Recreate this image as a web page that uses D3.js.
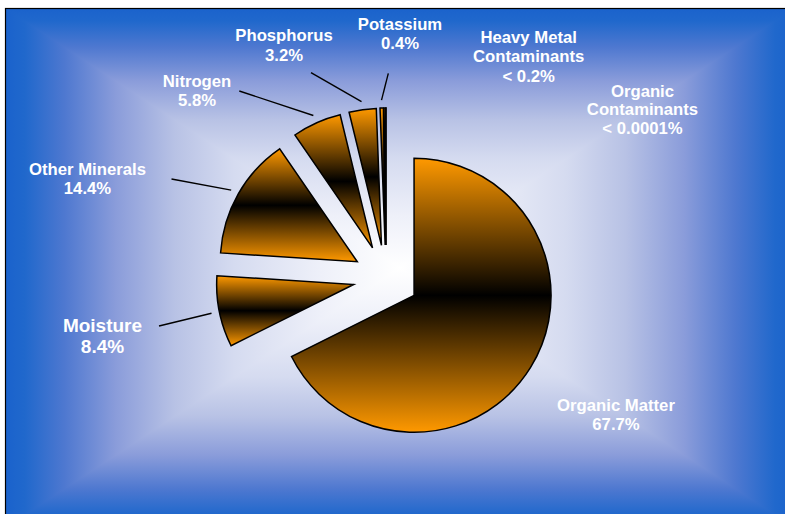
<!DOCTYPE html>
<html>
<head>
<meta charset="utf-8">
<script src="https://cdn.jsdelivr.net/npm/d3@7"></script>
<style>
  html, body { margin: 0; padding: 0; background: #ffffff; }
  svg { display: block; }
  text { font-family: "Liberation Sans", Arial, sans-serif; font-weight: bold; fill: #ffffff; }
</style>
</head>
<body>
<svg id="chart" width="785" height="514"></svg>
<script>
// ---------- data ----------
const categories = ["Organic Matter", "Moisture", "Other Minerals", "Nitrogen", "Phosphorus", "Potassium", "Heavy Metal Contaminants", "Organic Contaminants"];
const values = [67.7, 8.4, 14.4, 5.8, 3.2, 0.4, 0.2, 0.0001];
const valueLabels = ["67.7%", "8.4%", "14.4%", "5.8%", "3.2%", "0.4%", "< 0.2%", "< 0.0001%"];
const nameLines = [["Organic Matter"], ["Moisture"], ["Other Minerals"], ["Nitrogen"], ["Phosphorus"], ["Potassium"], ["Heavy Metal", "Contaminants"], ["Organic", "Contaminants"]];

// ---------- layout ----------
const W = 785, H = 514;
const frame = { x: 5, y: 8, w: 790, h: 520 };
const center = [386, 278];
const radius = 137;
const explode = 33;
const labelPos = [[616, 410.7], [102.5, 332], [87.5, 175], [197, 86.7], [284, 41], [400, 30], [528.7, 42.7], [642.5, 96.5]];
const labelSize = [16.7, 19, 16.7, 16.7, 16.7, 16.7, 16.7, 16.7];
const lineGap = [19, 21, 18.5, 19.3, 19.5, 19.3, 19.5, 18.8];
const leaderEnds = [null, [159, 326], [171.5, 179], [239.3, 91], [311, 72.7], [388.3, 73.3], null, null];

const svg = d3.select("#chart");
const defs = svg.append("defs");

// ---------- background: rectangular path gradient ----------
const bgStops = [
  [0.00, "#1a62cc"], [0.05, "#2068cc"], [0.15, "#4e78d0"], [0.28, "#8a9cda"],
  [0.43, "#b8c2e5"], [0.58, "#d5dbf0"], [0.80, "#eef0f9"], [1.00, "#ffffff"]
];
const L = frame.x, T = frame.y, R = frame.x + frame.w, B = frame.y + frame.h;
const cx = (L + R) / 2, cy = (T + B) / 2;
function makeGrad(id, x1, y1, x2, y2) {
  const g = defs.append("linearGradient").attr("id", id)
    .attr("gradientUnits", "userSpaceOnUse")
    .attr("x1", x1).attr("y1", y1).attr("x2", x2).attr("y2", y2);
  g.selectAll("stop").data(bgStops).join("stop")
    .attr("offset", d => d[0]).attr("stop-color", d => d[1]);
}
makeGrad("gTop", cx, T, cx, cy);
makeGrad("gBot", cx, B, cx, cy);
makeGrad("gLeft", L, cy, cx, cy);
makeGrad("gRight", R, cy, cx, cy);

svg.append("rect").attr("x", L).attr("y", T).attr("width", cx - L).attr("height", frame.h).attr("fill", "url(#gLeft)");
svg.append("rect").attr("x", cx).attr("y", T).attr("width", R - cx).attr("height", frame.h).attr("fill", "url(#gRight)");
svg.append("polygon").attr("points", `${L},${T} ${R},${T} ${cx},${cy}`).attr("fill", "url(#gTop)");
svg.append("polygon").attr("points", `${L},${B} ${R},${B} ${cx},${cy}`).attr("fill", "url(#gBot)");

svg.append("rect").attr("x", L + 0.5).attr("y", T + 0.5).attr("width", frame.w).attr("height", frame.h)
  .attr("fill", "none").attr("stroke", "#000").attr("stroke-width", 1.2);

// ---------- slice gradient ----------
const sg = defs.append("linearGradient").attr("id", "slice")
  .attr("x1", 0).attr("y1", 0).attr("x2", 0).attr("y2", 1);
sg.append("stop").attr("offset", 0).attr("stop-color", "#ff9900");
sg.append("stop").attr("offset", 0.5).attr("stop-color", "#000000");
sg.append("stop").attr("offset", 1).attr("stop-color", "#ff9900");

// ---------- pie ----------
const data = categories.map((c, i) => ({ name: c, value: values[i], i }));
const pie = d3.pie().sort(null).value(d => d.value).startAngle(0).endAngle(2 * Math.PI);
const arcs = pie(data);
const arc = d3.arc().innerRadius(0).outerRadius(radius);
const g = svg.append("g").attr("transform", `translate(${center[0]},${center[1]})`);

function offset(d) {
  const m = (d.startAngle + d.endAngle) / 2;
  return [explode * Math.sin(m), -explode * Math.cos(m)];
}

g.selectAll("path.slice").data(arcs).join("path")
  .attr("class", "slice")
  .attr("transform", d => { const o = offset(d); return `translate(${o[0]},${o[1]})`; })
  .attr("d", arc)
  .attr("fill", "url(#slice)")
  .attr("stroke", "#000")
  .attr("stroke-width", 1.5)
  .attr("stroke-linejoin", "miter");

// leader lines
const lineArc = d3.arc().innerRadius(radius + 8).outerRadius(radius + 8);
g.selectAll("line.leader").data(arcs.filter(d => leaderEnds[d.index])).join("line")
  .attr("class", "leader")
  .attr("x1", d => { const o = offset(d); return lineArc.centroid(d)[0] + o[0]; })
  .attr("y1", d => { const o = offset(d); return lineArc.centroid(d)[1] + o[1]; })
  .attr("x2", d => leaderEnds[d.index][0] - center[0])
  .attr("y2", d => leaderEnds[d.index][1] - center[1])
  .attr("stroke", "#000").attr("stroke-width", 1.4);

// labels
const lab = svg.selectAll("text.label").data(arcs).join("text")
  .attr("class", "label")
  .attr("text-anchor", "middle")
  .attr("x", d => labelPos[d.index][0])
  .attr("y", d => labelPos[d.index][1])
  .style("font-size", d => labelSize[d.index] + "px");
lab.each(function(d) {
  const t = d3.select(this);
  const lines = nameLines[d.index].concat([valueLabels[d.index]]);
  lines.forEach((s, k) => {
    t.append("tspan").attr("x", labelPos[d.index][0]).attr("dy", k === 0 ? 0 : lineGap[d.index]).text(s);
  });
});
</script>
</body>
</html>
